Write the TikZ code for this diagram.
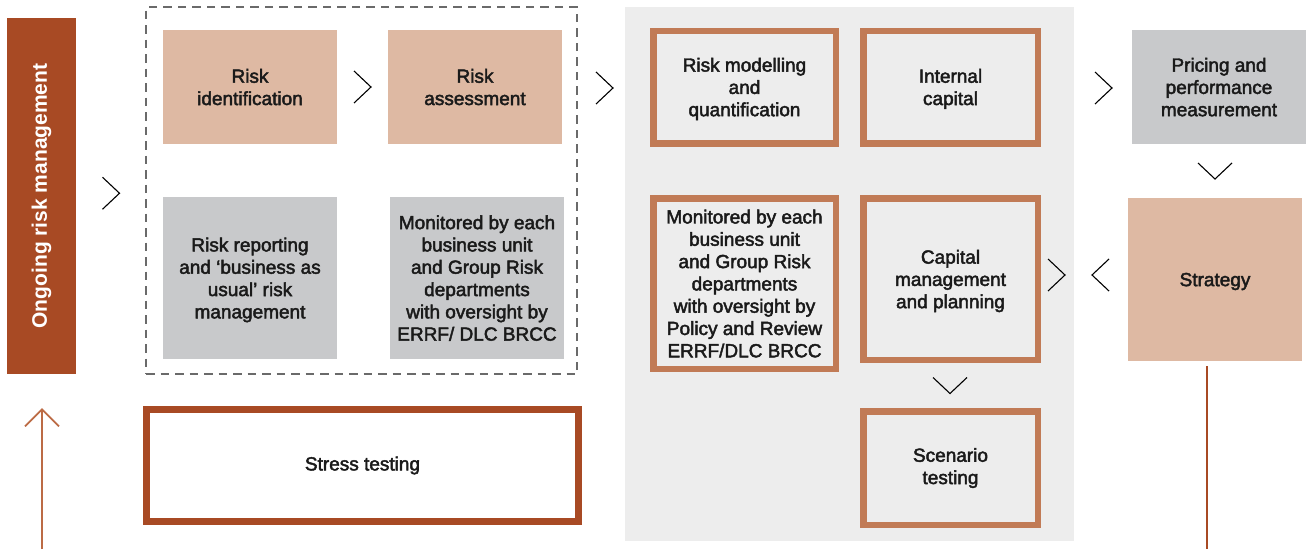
\documentclass[tikz,border=0pt]{standalone}
\usepackage{fontspec}
\setmainfont{Liberation Sans}
\usetikzlibrary{arrows.meta,calc}

\definecolor{rust}{HTML}{A84A24}
\definecolor{copper}{HTML}{C17B56}
\definecolor{sand}{HTML}{DEB9A3}
\definecolor{stone}{HTML}{C8C9CB}
\definecolor{panelgray}{HTML}{EDEDED}
\definecolor{ink}{HTML}{1A1A1A}
\definecolor{arrowrust}{HTML}{BC6B45}
\definecolor{dashgray}{HTML}{6A6A6A}

% slightly heavier text: fill and stroke the glyph outlines
\newcommand\heavytext{\special{pdf:literal direct 2 Tr 0.45 w}}

\begin{document}
\begin{tikzpicture}[x=1pt,y=-1pt,
  every node/.style={inner sep=0pt,outer sep=0pt},
  boxtext/.style={font=\heavytext\fontsize{19}{22.3}\selectfont,text=ink,align=center,text depth=0pt},
  sandbox/.style={boxtext,fill=sand,minimum width=174,minimum height=114},
  stonebox/.style={boxtext,fill=stone,minimum width=174,minimum height=162},
  framebox/.style={boxtext,draw=copper,line width=6.5},
  chevron/.style={draw=black,line width=1.1,line join=miter},
  pics/chevright/.style={code={\draw[chevron] (-8.5,-16) -- (8.5,0) -- (-8.5,16);}},
  pics/chevleft/.style={code={\draw[chevron] (8.5,-16) -- (-8.5,0) -- (8.5,16);}},
  pics/chevdown/.style={code={\draw[chevron] (-17,-8) -- (0,8) -- (17,-8);}}
]
\useasboundingbox (0,0) rectangle (1309,549);

% capital panel in the background
\node[fill=panelgray,minimum width=449,minimum height=534] (panel) at (849.5,274) {};

% ongoing risk management bar
\node[fill=rust,minimum width=69,minimum height=356] (bar) at (41.5,196) {};
\node[rotate=90,text=white,font=\bfseries\fontsize{21}{24}\selectfont] (bartext) at (bar.center) {Ongoing risk management};

% risk process group
\node[draw=dashgray,line width=1.1,dash pattern=on 8.5pt off 6pt,minimum width=431,minimum height=367] (group) at (361.5,190.5) {};
\node[sandbox] (riskid) at (250,87) {Risk\\identification};
\node[sandbox] (riskass) at (475,87) {Risk\\assessment};
\node[stonebox] (report) at (250,278) {Risk reporting\\and ‘business as\\usual’ risk\\management};
\node[stonebox] (monitor) at (477,278) {Monitored by each\\business unit\\and Group Risk\\departments\\with oversight by\\ERRF/ DLC BRCC};

% stress testing
\node[boxtext,text depth=,draw=rust,line width=6.5,minimum width=432,minimum height=112] (stress) at (362.5,465.5) {Stress testing};

% capital boxes
\node[framebox,minimum width=182.5,minimum height=112.5] (model) at (744.5,87) {Risk modelling\\and\\quantification};
\node[framebox,minimum width=174.5,minimum height=112.5] (internal) at (950.5,87) {Internal\\capital};
\node[framebox,minimum width=182.5,minimum height=170.5] (policy) at (744.5,283.5) {Monitored by each\\business unit\\and Group Risk\\departments\\with oversight by\\Policy and Review\\ERRF/DLC BRCC};
\node[framebox,minimum width=174.5,minimum height=161.5] (capital) at (950.5,279) {Capital\\management\\and planning};
\node[framebox,text depth=,minimum width=174.5,minimum height=113.5] (scenario) at (950.5,468) {Scenario\\testing};

% pricing and strategy
\node[boxtext,fill=stone,minimum width=174,minimum height=114] (pricing) at (1219,87) {Pricing and\\performance\\measurement};
\node[sandbox,minimum height=163] (strategy) at (1215,279.5) {Strategy};

% chevrons between the stages
\pic at ($(bar.east)!0.5!(group.west)$) {chevright};
\pic at ($(riskid.east)!0.5!(riskass.west)$) {chevright};
\pic at (604.5,88) {chevright};
\pic at (1103.5,88) {chevright};
\pic at (1215,171) {chevdown};
\pic at (1056.5,275) {chevright};
\pic at (1100.5,275) {chevleft};
\pic at (950,385.5) {chevdown};

% feedback lines
\coordinate (upfoot) at (42,549);
\coordinate (uptip) at (42,408);
\draw[arrowrust,line width=2,-{Straight Barb[length=17pt,width=34pt,line width=1.8pt]}] (upfoot) -- (uptip);
\coordinate (stratfoot) at (1207,366);
\coordinate (stratend) at (1207,549);
\draw[rust,line width=2.4] (stratfoot) -- (stratend);
\end{tikzpicture}
\end{document}
